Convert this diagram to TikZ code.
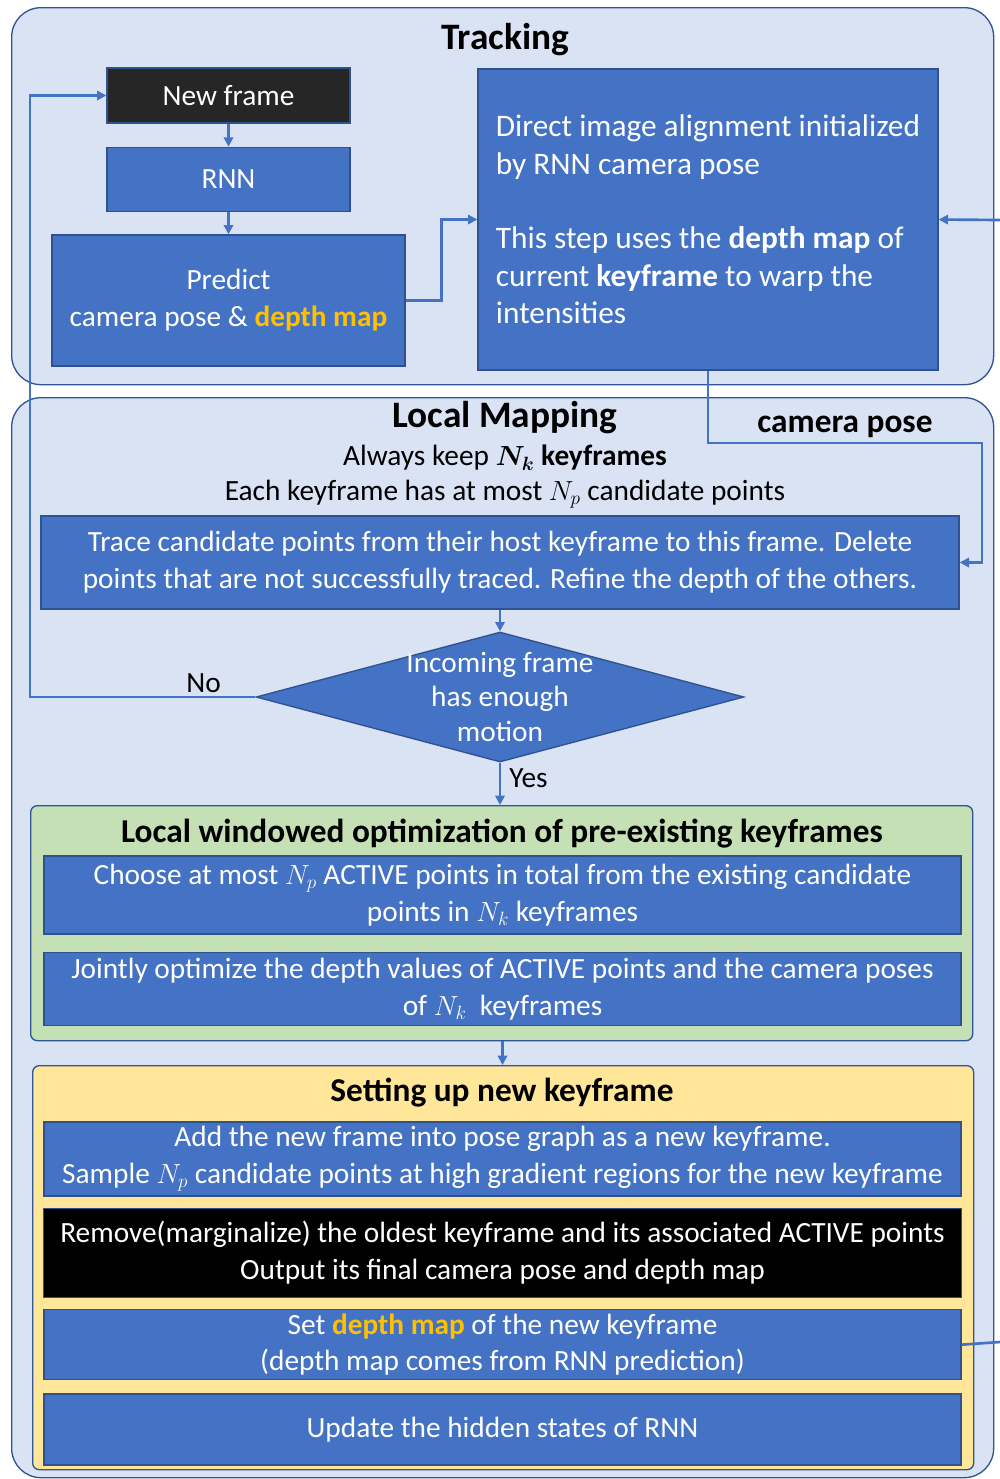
\documentclass[tikz,border=0pt]{standalone}
\usepackage{amsmath}
\usepackage{fontspec}
\setmainfont{Carlito}
\usetikzlibrary{positioning,shapes.geometric,arrows.meta}
\definecolor{PanelFill}{HTML}{DAE3F3}
\definecolor{PanelEdge}{HTML}{2F5597}
\definecolor{BoxBlue}{HTML}{4472C4}
\definecolor{BoxEdge}{HTML}{2F528F}
\definecolor{OptGreen}{HTML}{C5E0B4}
\definecolor{KeyYellow}{HTML}{FFE699}
\definecolor{DepthGold}{HTML}{FFC000}
\definecolor{FrameDark}{HTML}{262626}
\tikzset{boxsize/.style 2 args={minimum width=#1*0.75pt, minimum height=#2*0.75pt}}

\begin{document}
\begin{tikzpicture}[x=0.75pt, y=-0.75pt,
  panel/.style={rectangle, draw=PanelEdge, fill=PanelFill, line width=1pt, rounded corners=22pt, anchor=north west, inner sep=0pt},
  subpanel/.style={rectangle, draw=PanelEdge, line width=1pt, rounded corners=5pt, anchor=north west, inner sep=0pt},
  title/.style={font=\fontsize{28}{32}\selectfont\bfseries, text=black, inner sep=0pt},
  subtitle/.style={font=\fontsize{25}{30}\selectfont\bfseries, text=black, inner sep=0pt},
  note/.style={font=\fontsize{22}{27}\selectfont, text=black, inner sep=0pt},
  stepbox/.style={rectangle, draw=BoxEdge, fill=BoxBlue, line width=1pt, text=white, align=center, inner sep=0pt, font=\fontsize{22}{27.5}\selectfont},
  decision/.style={diamond, draw=BoxEdge, fill=BoxBlue, line width=1pt, inner sep=0pt},
  arrow/.style={-{Triangle[length=7pt,width=7pt]}, line width=2pt, color=BoxBlue},
  line/.style={line width=2pt, color=BoxBlue}
]
  \useasboundingbox (0,0) rectangle (1000,1479);
  \clip (0,0) rectangle (1000,1479);
  \fill[white] (0,0) rectangle (1000,1479);

  % Panels
  \node[panel, boxsize={982}{377}] (trackpanel) at (11,7) {};
  \node[panel, boxsize={982}{1080}] (mappanel) at (11,397) {};
  \node[title] at (505,40) {Tracking};
  \node[title] at (505,418) {Local Mapping};
  \node[note] (keepnote) at (505,458) {Always keep $\boldsymbol{N_k}$ \textbf{keyframes}};
  \node[note] (candnote) at (505,494) {Each keyframe has at most $N_p$ candidate points};

  % Tracking
  \node[stepbox, boxsize={243}{55}, fill=FrameDark] (newframe) at (228.5,95.5) {New frame};
  \node[stepbox, boxsize={243}{64}, below=17.25pt of newframe] (rnn) {RNN};
  \node[stepbox, boxsize={353}{131}] (predict) at (228.5,300.5) {Predict\\camera pose \& \textcolor{DepthGold}{\textbf{depth map}}};
  \node[stepbox, boxsize={460}{301}, align=left, font=\fontsize{23.5}{28}\selectfont] (direct) at (708,219.5)
    {Direct image alignment initialized\\by RNN camera pose\\[28pt]This step uses the \textbf{depth map} of\\current \textbf{keyframe} to warp the\\intensities};

  % Local mapping
  \node[stepbox, boxsize={918}{93}] (trace) at (500,562.5)
    {Trace candidate points from their host keyframe to this frame. Delete\\points that are not successfully traced. Refine the depth of the others.};
  \node[decision, boxsize={488}{130}] (motion) at (500,697) {};
  \node[note, text=white, align=center, font=\fontsize{22}{26}\selectfont] at (motion) {Incoming frame\\has enough\\motion};

  \node[subpanel, fill=OptGreen, boxsize={942}{235}] (optpanel) at (30,805) {};
  \node[subtitle] at (502,834) {Local windowed optimization of pre-existing keyframes};
  \node[stepbox, boxsize={917}{78}] (choose) at (502.5,895)
    {Choose at most $N_p$ ACTIVE points in total from the existing candidate\\points in $N_k$ keyframes};
  \node[stepbox, boxsize={917}{73}, below=12.75pt of choose] (jointly)
    {Jointly optimize the depth values of ACTIVE points and the camera poses\\of $N_k$\ \ keyframes};

  \node[subpanel, fill=KeyYellow, boxsize={941}{404}] (kfpanel) at (32,1065) {};
  \node[subtitle] at (502,1093) {Setting up new keyframe};
  \node[stepbox, boxsize={917}{74}] (addkf) at (502.5,1159)
    {Add the new frame into pose graph as a new keyframe.\\Sample $N_p$ candidate points at high gradient regions for the new keyframe};
  \node[stepbox, boxsize={918}{89}, fill=black, below=8.25pt of addkf] (remove)
    {Remove(marginalize) the oldest keyframe and its associated ACTIVE points\\Output its final camera pose and depth map};
  \node[stepbox, boxsize={917}{70}, below=8.25pt of remove] (setdepth)
    {Set \textcolor{DepthGold}{\textbf{depth map}} of the new keyframe\\(depth map comes from RNN prediction)};
  \node[stepbox, boxsize={917}{71}, below=9.75pt of setdepth] (update) {Update the hidden states of RNN};

  % Connections
  \coordinate (nobend) at (30,697);
  \coordinate (posebend) at (982,443);
  \coordinate (rightin) at (1000,220);
  \coordinate (rightout) at (1000,1342);
  \draw[arrow] (newframe) -- (rnn);
  \draw[arrow] (rnn) -- (predict);
  \draw[arrow] (predict.east) -- ++(36,0) |- (direct.west);
  \draw[arrow] (rightin) -- (direct.east);
  \draw[arrow] (direct.south) |- node[pos=0.75, above=3pt, subtitle] {camera pose} (posebend) |- (trace.east);
  \draw[arrow] (trace) -- (motion);
  \draw[arrow] (motion.west) -- node[pos=0.23, above=2pt, note] {No} (nobend) |- (newframe.west);
  \draw[arrow] (motion.south) -- node[pos=0.37, right=6pt, note] {Yes} (optpanel.north -| motion.south);
  \draw[arrow] (optpanel.south -| jointly.south) -- (kfpanel.north -| jointly.south);
  \draw[line] (setdepth.east) -- (rightout);

\end{tikzpicture}
\end{document}
